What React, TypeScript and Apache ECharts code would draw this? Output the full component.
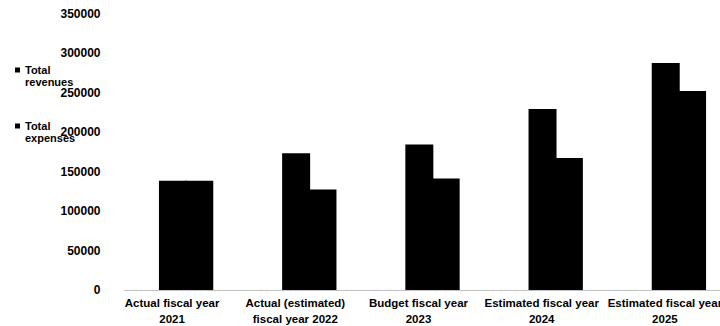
import React, { useEffect, useRef } from "react";
import * as echarts from "echarts";

const categories = [
  "Actual fiscal year\n2021",
  "Actual (estimated)\nfiscal year 2022",
  "Budget fiscal year\n2023",
  "Estimated fiscal year\n2024",
  "Estimated fiscal year\n2025",
];
const totalRevenues = [138500, 173500, 184500, 229500, 288000];
const totalExpenses = [138500, 127500, 141500, 167500, 252500];
const legendNames = ["Total revenues", "Total expenses"];

const FONT = "'Liberation Sans', Arial, sans-serif";

export default function App() {
  const ref = useRef<HTMLDivElement>(null);
  useEffect(() => {
    if (!ref.current) return;
    const chart = echarts.init(ref.current, null, { renderer: "svg" });
    const legendText = (name: string, y: number) => {
      const parts = name.split(" ");
      return [
        { type: "rect", left: 15, top: y - 2.5, shape: { width: 5, height: 5 }, style: { fill: "#000" } },
        { type: "text", left: 25, top: y - 6, style: { text: parts[0], font: `bold 11px ${FONT}`, fill: "#000" } },
        { type: "text", left: 25, top: y + 6, style: { text: parts[1], font: `bold 11px ${FONT}`, fill: "#000" } },
      ];
    };
    chart.setOption({
      animation: false,
      backgroundColor: "#fff",
      textStyle: { fontFamily: FONT },
      grid: { left: 124.5, top: 14, width: 616, bottom: 36, containLabel: false, outerBoundsMode: "none" },
      xAxis: {
        type: "category",
        data: categories,
        axisLine: { show: true, lineStyle: { color: "#bbb", type: "dotted", width: 1 } },
        axisTick: { show: false },
        axisLabel: {
          color: "#000",
          fontWeight: "bold",
          fontSize: 11.5,
          fontFamily: FONT,
          lineHeight: 16,
          margin: 5,
          interval: 0,
          padding: [0, 28, 0, 0],
        },
      },
      yAxis: {
        type: "value",
        min: 0,
        max: 350000,
        interval: 50000,
        splitLine: { show: false },
        axisLine: { show: false },
        axisTick: { show: false },
        axisLabel: {
          color: "#000",
          fontWeight: "bold",
          fontSize: 12,
          fontFamily: FONT,
          margin: 24,
          formatter: (v: number) => String(v),
        },
      },
      series: [
        {
          name: legendNames[0],
          type: "bar",
          data: totalRevenues,
          barWidth: 28,
          barGap: "-6%",
          itemStyle: { color: "#000" },
        },
        {
          name: legendNames[1],
          type: "bar",
          data: totalExpenses,
          barWidth: 28,
          barGap: "-6%",
          itemStyle: { color: "#000" },
        },
      ],
      graphic: [...legendText(legendNames[0], 70), ...legendText(legendNames[1], 126)],
    });
    return () => chart.dispose();
  }, []);
  return (
    <div
      ref={ref}
      style={{ position: "fixed", left: 0, top: 0, width: 746, height: 326 }}
    />
  );
}
